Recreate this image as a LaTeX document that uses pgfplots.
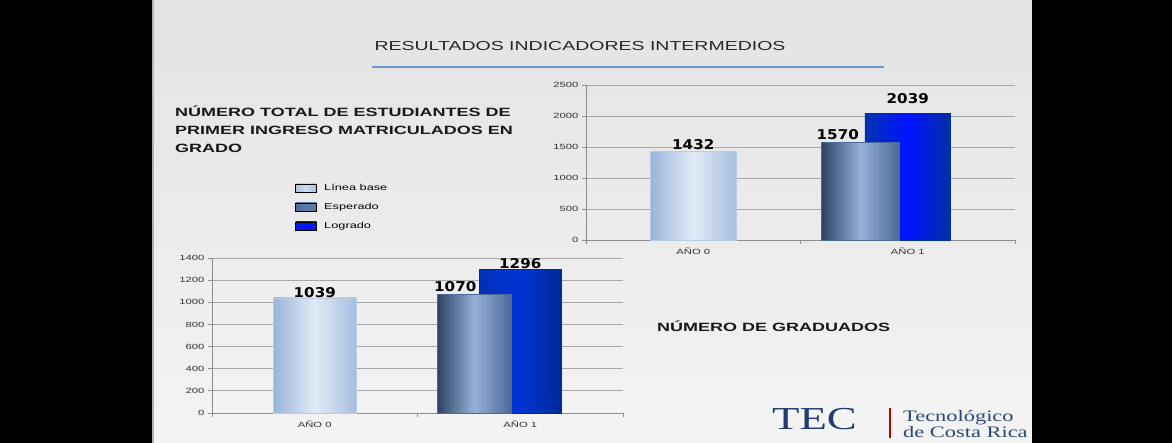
\documentclass[border=0pt]{standalone}
\usepackage{fontspec}
\usepackage{pgfplots}
\pgfplotsset{compat=1.18}
\setmainfont{Liberation Sans}
\newfontfamily\wide[FakeStretch=1.5]{Liberation Sans}
\newfontfamily\lbl[FakeStretch=1.12]{DejaVu Sans}
\newfontfamily\logo[FakeStretch=1.4]{Liberation Serif}

\definecolor{slidetop}{HTML}{E3E3E3}
\definecolor{slidebot}{HTML}{F4F4F4}
\definecolor{axisgray}{HTML}{8C8C8C}
\definecolor{gridgray}{HTML}{A8A8A8}
\definecolor{lbL}{HTML}{9AB5DA}\definecolor{lbM}{HTML}{E2EBF6}\definecolor{lbR}{HTML}{A6BFE0}
\definecolor{esL}{HTML}{2B4263}\definecolor{esM}{HTML}{97B1D8}\definecolor{esR}{HTML}{4B6A96}
\definecolor{loL}{HTML}{0034B2}\definecolor{loM}{HTML}{0012FF}\definecolor{loR}{HTML}{0030A0}
\definecolor{loL2}{HTML}{0030B8}\definecolor{loM2}{HTML}{0034D4}\definecolor{loR2}{HTML}{002A98}
\definecolor{tecblue}{HTML}{1F3D74}
\definecolor{lineblue}{HTML}{7199CE}

\pgfplotsset{
  /pgf/number format/assume math mode=true,
  /pgf/number format/1000 sep={},
  slide/.style={
    scale only axis, anchor=south west,
    xmin=-0.5, xmax=1.5, ymin=0,
    axis x line*=bottom, axis y line*=left,
    axis line style={draw=axisgray, line width=0.8pt, -},
    ymajorgrids, grid style={draw=gridgray, line width=0.8pt},
    xtick={0,1}, xticklabels={AÑO 0, AÑO 1},
    minor xtick={-0.5,0.5,1.5},
    major x tick style={draw=none},
    minor x tick style={draw=axisgray, line width=0.8pt},
    y tick style={draw=axisgray, line width=0.8pt},
    tick align=outside, major tick length=4pt, minor tick length=4pt,
    ticklabel style={font=\wide\fontsize{7.5}{8}\selectfont, text=black!80},
    clip=false,
  },
  lab/.style={nodes near coords,
    every node near coord/.append style={font=\lbl\bfseries\fontsize{13.5}{14}\selectfont,
      text=black, anchor=base, inner sep=0pt, #1}},
}

\begin{document}
\begin{tikzpicture}[x=1pt,y=1pt]
\useasboundingbox (0,0) rectangle (1172,443);
\fill[black] (0,0) rectangle (1172,443);
\shade[top color=slidetop, bottom color=slidebot] (153,0) rectangle (1032,443);
\draw[gray!60, line width=1.5pt] (153,0) -- (153,443);
\coordinate (topchart) at (586,203);
\coordinate (botchart) at (212,30);

% title
\node[anchor=base, font=\wide\fontsize{13}{14}\selectfont, text=black!85] at (580,392) {RESULTADOS INDICADORES INTERMEDIOS};
\draw[lineblue, line width=2.2pt] (372,376) -- (884,376);

% headings
\begin{scope}[every node/.style={anchor=base west, font=\wide\bfseries\fontsize{12}{13}\selectfont, text=black!90, inner sep=0pt}]
\node at (175,326) {NÚMERO TOTAL DE ESTUDIANTES DE};
\node at (175,308) {PRIMER INGRESO MATRICULADOS EN};
\node at (175,290) {GRADO};
\node at (657,111) {NÚMERO DE GRADUADOS};
\end{scope}

% top chart
\begin{axis}[slide, at={(topchart)}, width=429pt, height=155pt,
  ymax=2500, ytick={0,500,...,2500},
  legend image code/.code={\path[#1] (0pt,-4pt) rectangle (21pt,4pt);},
  legend style={at={(axis description cs:-0.685,0.382)}, anchor=north west,
    draw=none, fill=none, font=\wide\fontsize{8.5}{9}\selectfont,
    nodes={inner sep=1pt, text height=6.5pt, text depth=1.5pt},
    row sep=9pt, /tikz/every odd column/.append style={column sep=6.5pt}},
  legend cell align=left]
\addlegendimage{left color=lbL!80!lbM, right color=lbL!80!lbM, middle color=lbM!70!lbL}
\addlegendentry{Línea base}
\addlegendimage{left color=esR, right color=esR!80!esM, middle color=esR!75!esM}
\addlegendentry{Esperado}
\addlegendimage{left color=loL!40!loM, right color=loL!40!loM, middle color=loM}
\addlegendentry{Logrado}
\addplot[ybar, forget plot, bar width=0.40, bar shift=0, draw=lbR!80!white, line width=0.4pt,
  left color=lbL, right color=lbR, middle color=lbM, lab={yshift=2pt}]
  coordinates {(0,1432)};
\addplot[ybar, forget plot, bar width=0.40, bar shift=0, draw=loR, line width=0.4pt,
  left color=loL, right color=loR, middle color=loM, lab={yshift=10pt}]
  coordinates {(1,2039)};
\addplot[ybar, forget plot, bar width=0.364, bar shift=-0.221, draw=esR, line width=0.4pt,
  left color=esL, right color=esR, middle color=esM, lab={yshift=3pt, xshift=-70pt}]
  coordinates {(1,1570)};
\end{axis}

% bottom chart
\begin{axis}[slide, at={(botchart)}, width=411pt, height=155pt,
  ymax=1400, ytick={0,200,...,1400}]
\addplot[ybar, bar width=0.40, bar shift=0, draw=lbR!80!white, line width=0.4pt,
  left color=lbL, right color=lbR, middle color=lbM, lab={yshift=0pt}]
  coordinates {(0,1039)};
\addplot[ybar, bar width=0.40, bar shift=0, draw=loR2, line width=0.4pt,
  left color=loL2, right color=loR2, middle color=loM2, lab={yshift=1pt}]
  coordinates {(1,1296)};
\addplot[ybar, bar width=0.36, bar shift=-0.224, draw=esR, line width=0.4pt,
  left color=esL, right color=esR, middle color=esM, lab={yshift=3pt, xshift=-65pt}]
  coordinates {(1,1070)};
\end{axis}

% logo
\node[anchor=base west, inner sep=0pt, font=\logo\fontsize{32}{32}\selectfont, text=tecblue] at (772,13) {TEC};
\draw[red!75!black, line width=1.2pt] (890,5) -- (890,35);
\node[anchor=base west, inner sep=0pt, font=\logo\fontsize{16}{16}\selectfont, text=tecblue!85!gray] at (903,21) {Tecnológico};
\node[anchor=base west, inner sep=0pt, font=\logo\fontsize{16}{16}\selectfont, text=tecblue!85!gray] at (903,5) {de Costa Rica};
\fill[black] (1032,0) rectangle (1172,443);
\end{tikzpicture}
\end{document}
